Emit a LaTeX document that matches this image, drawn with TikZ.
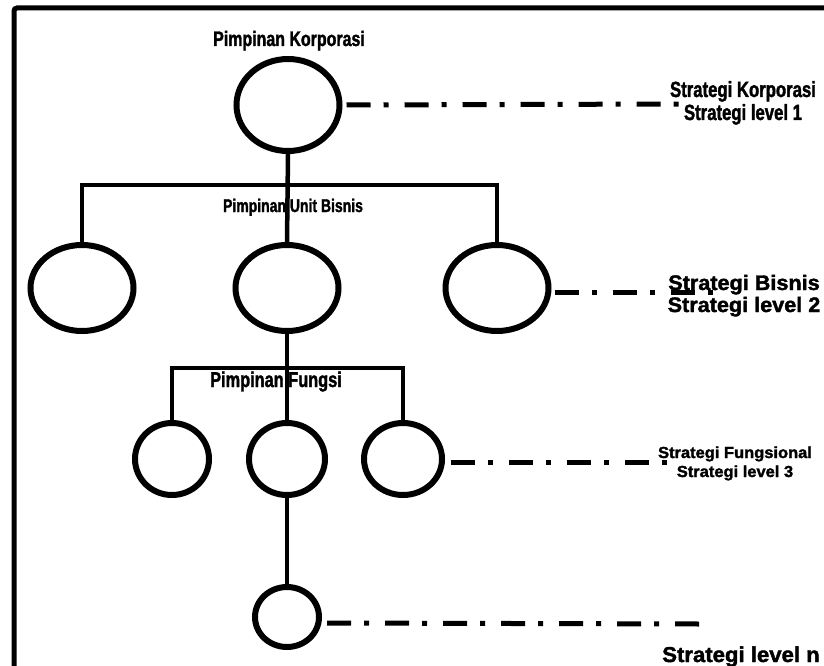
\documentclass[tikz,border=0pt]{standalone}
\usepackage{fontspec}
\setmainfont{Liberation Sans}
\newfontfamily\narrowbf[FakeStretch=0.76,FakeBold=1.6]{Liberation Sans Bold}
\newfontfamily\widebf[FakeStretch=1.03,FakeBold=1.8]{Liberation Sans Bold}
\usetikzlibrary{shapes.geometric}

\begin{document}
\begin{tikzpicture}[x=1pt, y=-1pt,
      unit/.style={ellipse, draw, line width=6pt, inner sep=0pt,
                   minimum width=#1},
      conn/.style={line width=4.5pt},
      dashdot/.style={line width=5pt, dash pattern=on 24pt off 13pt on 5pt off 16pt},
      txt/.style={inner sep=0pt, align=center, anchor=base},
      every node/.style={align=center}]
    \useasboundingbox (0,0) rectangle (824,666);
    \draw[line width=5pt, rounded corners=3pt] (14,8) rectangle (850,690);

    % lingkaran per tingkat
    \node[unit=103pt, minimum height=92pt] (korp) at (288,105) {};
    \node[unit=103pt, minimum height=86pt] (bis1) at (82,288)  {};
    \node[unit=103pt, minimum height=86pt] (bis2) at (287,288) {};
    \node[unit=103pt, minimum height=86pt] (bis3) at (497,288) {};
    \node[unit=74pt, minimum height=72pt]  (fun1) at (172,459) {};
    \node[unit=76pt, minimum height=72pt]  (fun2) at (287,459) {};
    \node[unit=78pt, minimum height=72pt]  (fun3) at (403,459) {};
    \node[unit=64pt, minimum height=60pt]  (opr)  at (287,617) {};

    % garis hierarki
    \coordinate (busB) at (287,185);
    \coordinate (busF) at (287,368);
    \draw[conn] (korp.south) -- (bis2.north);
    \draw[conn] (bis1.north) |- (busB) -| (bis3.north);
    \draw[conn] (bis2.south) -- (fun2.north);
    \draw[conn] (fun1.north) |- (busF) -| (fun3.north);
    \draw[conn] (fun2.south) -- (opr.north);

    % garis strategi
    \coordinate (s1) at (680,104);
    \coordinate (s2) at (716,292);
    \coordinate (s3) at (672,462);
    \coordinate (sn) at (700,624);
    \draw[dashdot] ([xshift=4pt]korp.east) -- (s1);
    \draw[dashdot] ([xshift=3pt,yshift=-4pt]bis3.east) -- (s2);
    \draw[dashdot] ([xshift=6pt,yshift=-3pt]fun3.east) -- (s3);
    \draw[dashdot] ([xshift=5pt,yshift=-6pt]opr.east) -- (sn);

    % label
    \node[txt, font={\narrowbf\fontsize{21}{22}\selectfont}] (lk) at (289,46) {Pimpinan Korporasi};
    \node[txt, font={\narrowbf\fontsize{18.4}{19}\selectfont}] (lb) at (293,212) {Pimpinan Unit Bisnis};
    \node[txt, font={\narrowbf\fontsize{21.5}{22}\selectfont}] (lf) at (276,387) {Pimpinan Fungsi};
    \node[txt, font={\narrowbf\fontsize{22}{23}\selectfont}] (t1) at (743,120) {Strategi Korporasi\\Strategi level 1};
    \node[txt, font={\widebf\fontsize{21}{22}\selectfont}] (t2) at (744,312) {Strategi Bisnis\\Strategi level 2};
    \node[txt, font={\widebf\fontsize{16}{19}\selectfont}] (t3) at (735,477) {Strategi Fungsional\\Strategi level 3};
    \node[txt, font={\widebf\fontsize{21.5}{24}\selectfont}] (tn) at (741,662) {Strategi level n};
  \end{tikzpicture}
\end{document}
